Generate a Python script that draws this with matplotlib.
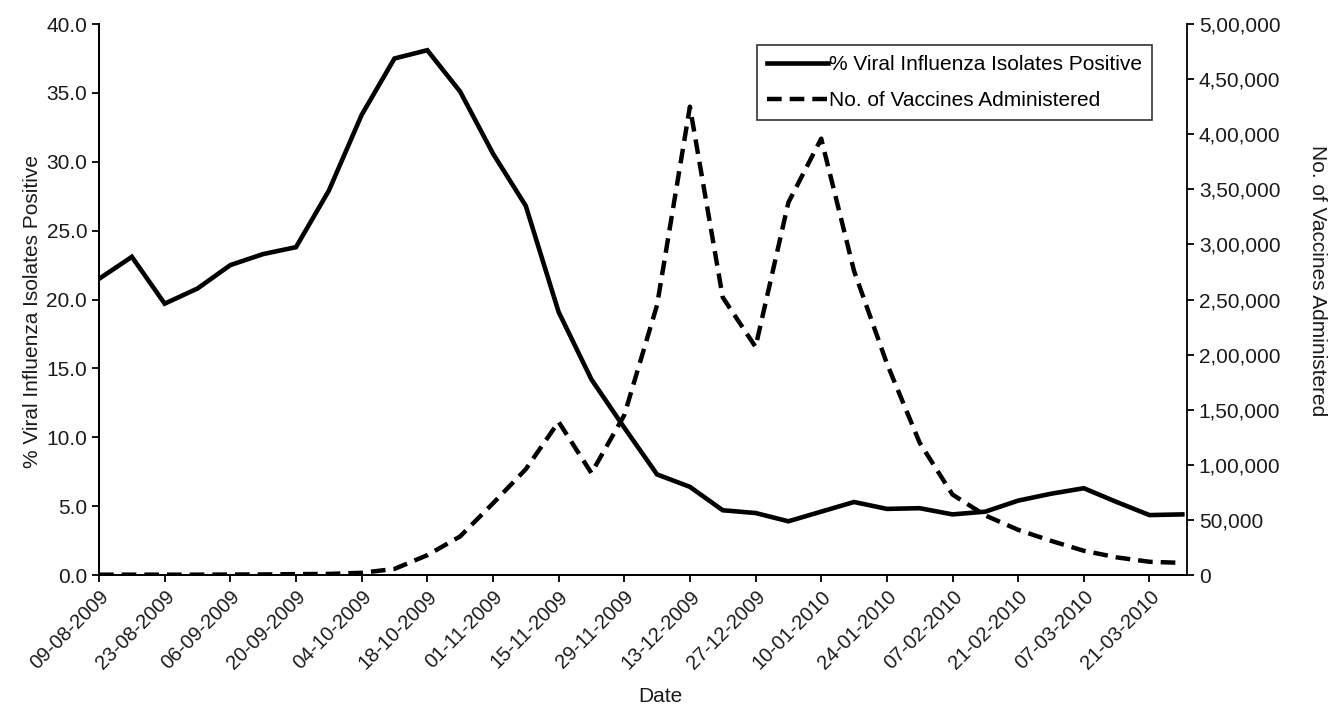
import numpy as np
import pandas as pd
import matplotlib
matplotlib.use('Agg')
import matplotlib.pyplot as plt
import matplotlib.dates as mdates

plt.rcParams['font.family'] = ['Liberation Sans', 'DejaVu Sans']

# weekly data, 09-08-2009 .. 28-03-2010
weeks = pd.date_range('2009-08-09', periods=34, freq='7D')

pct_positive = [21.5, 23.1, 19.7, 20.8, 22.5, 23.3, 23.8, 27.9, 33.4, 37.5,
                38.1, 35.1, 30.6, 26.8, 19.1, 14.2, 10.7, 7.3, 6.4, 4.7,
                4.5, 3.9, 4.6, 5.3, 4.8, 4.85, 4.4, 4.6, 5.4, 5.9,
                6.3, 5.3, 4.35, 4.4]

vaccines = [300, 300, 300, 300, 400, 500, 800, 1000, 2000, 5500,
            18000, 35000, 65000, 96000, 139000, 92500, 145000, 245000, 425000, 252000,
            207000, 338000, 396000, 276000, 192000, 120000, 73000, 54000, 41000, 31000,
            22000, 16000, 12000, 11000]

left_ticks = [0, 5, 10, 15, 20, 25, 30, 35, 40]
right_ticks = [0, 50000, 100000, 150000, 200000, 250000, 300000, 350000, 400000, 450000, 500000]
right_labels = ['0', '50,000', '1,00,000', '1,50,000', '2,00,000', '2,50,000',
                '3,00,000', '3,50,000', '4,00,000', '4,50,000', '5,00,000']

fs = 15
txt = '#1a1a1a'

fig = plt.figure(figsize=(13.31, 7.07), dpi=100)
ax = fig.add_axes([0.0744, 0.1867, 0.8174, 0.7793])
ax2 = ax.twinx()

l1, = ax.plot(weeks, pct_positive, color='black', lw=3.3, solid_joinstyle='miter')
l2, = ax2.plot(weeks, vaccines, color='black', lw=3.2, dashes=(3.3, 1.8))

ax.set_ylim(0, 40)
ax2.set_ylim(0, 500000)
ax.set_xlim(weeks[0], weeks[-1] + pd.Timedelta(days=1))

ax.set_yticks(left_ticks)
ax.set_yticklabels([f'{v:.1f}' for v in left_ticks])
ax2.set_yticks(right_ticks)
ax2.set_yticklabels(right_labels)

ax.set_xticks(weeks[::2])
ax.xaxis.set_major_formatter(mdates.DateFormatter('%d-%m-%Y'))
for lab in ax.get_xticklabels():
    lab.set_rotation(45)
    lab.set_ha('right')
    lab.set_rotation_mode('anchor')

for a in (ax, ax2):
    a.tick_params(direction='out', length=5, width=1.3, labelsize=fs, colors='black',
                  labelcolor=txt)
    for s in a.spines.values():
        s.set_linewidth(1.3)
    a.spines['top'].set_visible(False)
ax.spines['right'].set_visible(False)
ax.tick_params(axis='x', labelsize=14.5)

ax.set_ylabel('% Viral Influenza Isolates Positive', fontsize=fs, color=txt)
ax.yaxis.set_label_coords(-0.052, 0.479)
ax2.set_ylabel('No. of Vaccines Administered', fontsize=fs, color=txt, rotation=270,
               va='center')
ax2.yaxis.set_label_coords(1.12, 0.534)
ax.set_xlabel('Date', fontsize=fs, color=txt)
ax.xaxis.set_label_coords(0.516, -0.204)

leg = ax2.legend([l1, l2], ['% Viral Influenza Isolates Positive', 'No. of Vaccines Administered'],
                 loc='upper right', bbox_to_anchor=(0.968, 0.962), fontsize=fs,
                 fancybox=False, edgecolor='#333333', framealpha=1,
                 handlelength=2.9, handletextpad=0.05, borderpad=0.5, labelspacing=0.8,
                 borderaxespad=0)
leg.get_frame().set_linewidth(1.2)

fig.savefig('out.png', dpi=100)
